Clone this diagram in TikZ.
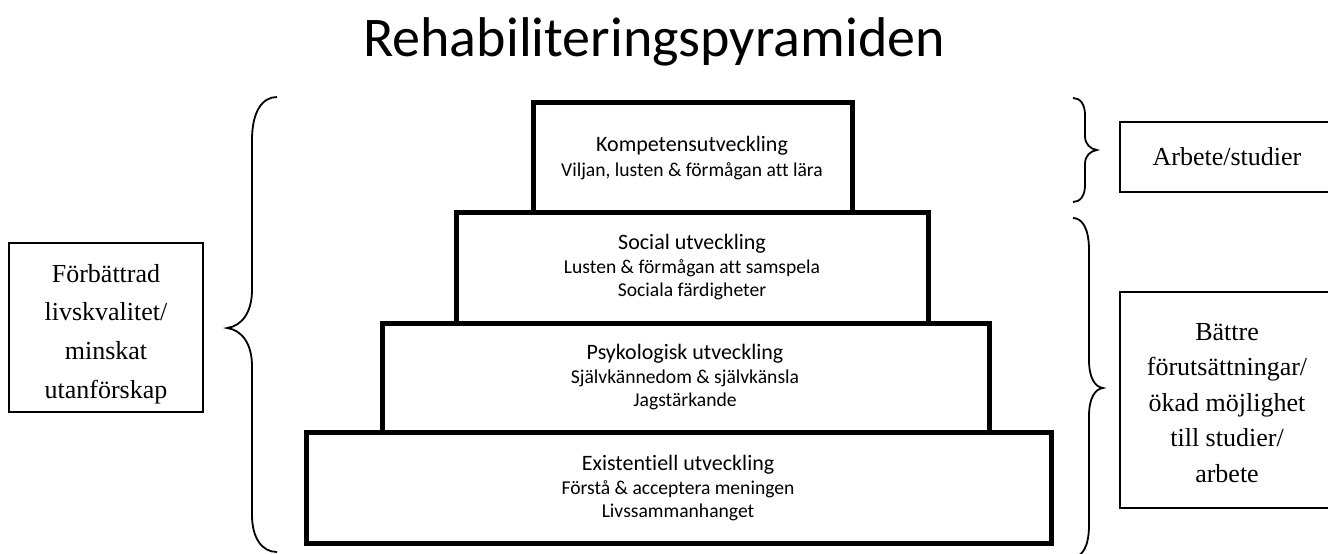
\documentclass[tikz,border=0pt]{standalone}
\usepackage{fontspec}
\setmainfont{Liberation Serif}
\newfontfamily\calibri[Ligatures=NoCommon]{Carlito}

\begin{document}
\begin{tikzpicture}[x=0.5pt,y=0.5pt]
		\tikzstyle{every node}+=[inner sep=0pt]
		\tikzstyle{tier}=[black, line width=2.5pt]
		\tikzstyle{tiertext}=[align=center, font=\calibri\fontsize{9.8}{11.4}\selectfont]
		\tikzstyle{sidebox}=[black, line width=0.8pt]
		\tikzstyle{sidetext}=[align=center, font=\fontsize{13}{19.4}\selectfont]
		\tikzstyle{wbrace}=[black, line width=0.9pt]
		\useasboundingbox (0,0) rectangle (1328,-553);
		\node (titel) [anchor=base, font=\calibri\fontsize{28}{32}\selectfont] at (654,-56) {Rehabiliteringspyramiden};
		% pyramiden
		\draw [tier] (306,-432) rectangle (1051,-543);
		\draw [tier] (382,-323) rectangle (989,-432);
		\draw [tier] (456,-212) rectangle (928,-323);
		\draw [tier] (533,-102) rectangle (852,-212);
		\node (komp) [tiertext] at (692,-158) {{\fontsize{11}{12}\selectfont Kompetensutveckling}\\[1pt]Viljan, lusten \& förmågan att lära};
		\node (social) [tiertext] at (692,-267) {{\fontsize{11}{12}\selectfont Social utveckling}\\[1pt]Lusten \& förmågan att samspela\\Sociala färdigheter};
		\node (psyk) [tiertext] at (685,-377) {{\fontsize{11}{12}\selectfont Psykologisk utveckling}\\[1pt]Självkännedom \& självkänsla\\Jagstärkande};
		\node (exist) [tiertext] at (678,-488) {{\fontsize{11}{12}\selectfont Existentiell utveckling}\\[1pt]Förstå \& acceptera meningen\\Livssammanhanget};
		% rutorna vid sidan
		\draw [sidebox] (9,-243) rectangle (203,-412);
		\node (livs) [sidetext] at (106,-334) {Förbättrad\\livskvalitet/\\minskat\\utanförskap};
		\draw [sidebox] (1120,-122) rectangle (1340,-192);
		\node (arbete) [sidetext] at (1227,-157) {Arbete/studier};
		\draw [sidebox] (1120,-292) rectangle (1340,-508);
		\node (battre) [sidetext, font=\fontsize{13}{17.8}\selectfont] at (1227,-403) {Bättre\\förutsättningar/\\ökad möjlighet\\till studier/\\arbete};
		% klamrar
		\draw [wbrace] (277,-97) .. controls (262,-97) and (252,-112) .. (252,-140) -- (252,-290) .. controls (252,-312) and (242,-326) .. (227,-328) .. controls (242,-330) and (252,-344) .. (252,-366) -- (252,-515) .. controls (252,-538) and (262,-552) .. (277,-552);
		\draw [wbrace] (1073,-98) .. controls (1080,-98) and (1085,-104) .. (1085,-115) -- (1085,-136) .. controls (1085,-144) and (1090,-149) .. (1097,-150) .. controls (1090,-151) and (1085,-156) .. (1085,-164) -- (1085,-185) .. controls (1085,-196) and (1080,-202) .. (1073,-202);
		\draw [wbrace] (1073,-218) .. controls (1082,-218) and (1089,-228) .. (1089,-250) -- (1089,-360) .. controls (1089,-378) and (1095,-387) .. (1103,-388) .. controls (1095,-389) and (1089,-398) .. (1089,-416) -- (1089,-525) .. controls (1089,-547) and (1082,-557) .. (1073,-557);
	\end{tikzpicture}
\end{document}
